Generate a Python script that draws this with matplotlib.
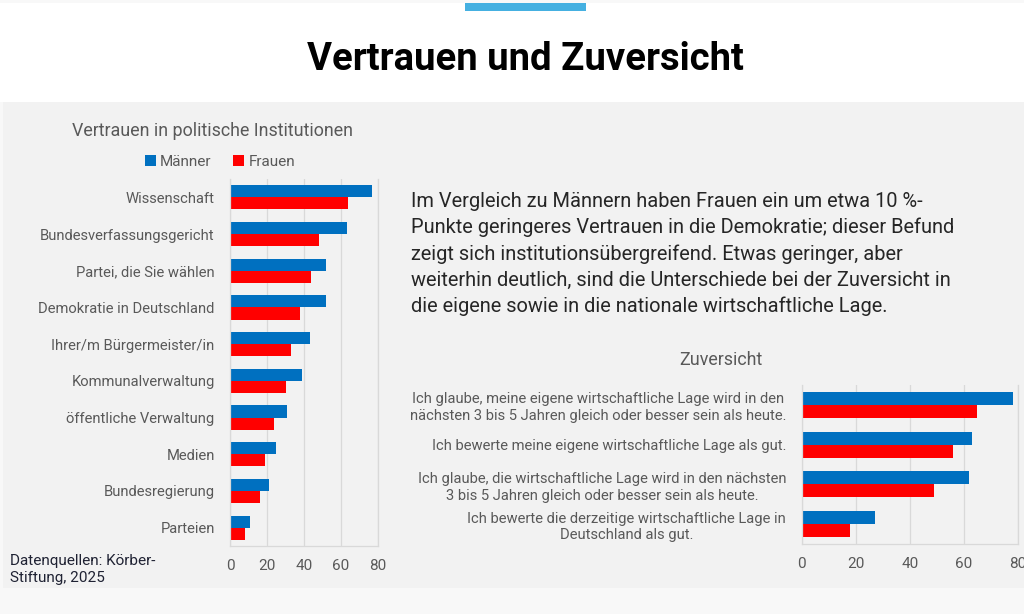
import matplotlib
matplotlib.use("Agg")
import matplotlib.pyplot as plt
from matplotlib.patches import Rectangle, Patch
import numpy as np

plt.rcParams['font.family'] = ['Roboto', 'DejaVu Sans']

# ---------------- data ----------------
title = "Vertrauen und Zuversicht"
inst_title = "Vertrauen in politische Institutionen"
inst_labels = ["Wissenschaft", "Bundesverfassungsgericht", "Partei, die Sie wählen",
               "Demokratie in Deutschland", "Ihrer/m Bürgermeister/in", "Kommunalverwaltung",
               "öffentliche Verwaltung", "Medien", "Bundesregierung", "Parteien"]
inst_maenner = [77, 63, 52, 52, 43, 39, 31, 25, 21, 11]
inst_frauen = [64, 48, 44, 38, 33, 30, 24, 19, 16, 8]

zuv_title = "Zuversicht"
zuv_labels = ["Ich glaube, meine eigene wirtschaftliche Lage wird in den\nnächsten 3 bis 5 Jahren gleich oder besser sein als heute.",
              "Ich bewerte meine eigene wirtschaftliche Lage als gut.",
              "Ich glaube, die wirtschaftliche Lage wird in den nächsten\n3 bis 5 Jahren gleich oder besser sein als heute.",
              "Ich bewerte die derzeitige wirtschaftliche Lage in\nDeutschland als gut."]
zuv_maenner = [78, 63, 62, 27]
zuv_frauen = [65, 56, 49, 18]

series_names = ["Männer", "Frauen"]
x_ticks = [0, 20, 40, 60, 80]

paragraph = ("Im Vergleich zu Männern haben Frauen ein um etwa 10 %-\n"
             "Punkte geringeres Vertrauen in die Demokratie; dieser Befund\n"
             "zeigt sich institutionsübergreifend. Etwas geringer, aber\n"
             "weiterhin deutlich, sind die Unterschiede bei der Zuversicht in\n"
             "die eigene sowie in die nationale wirtschaftliche Lage.")
source = "Datenquellen: Körber-\nStiftung, 2025"

# ---------------- styles ----------------
C_M = "#0070C0"
C_F = "#FF0000"
GRAY_TXT = "#595959"
GRID = "#d9d9d9"
W, H = 1024, 614

fig = plt.figure(figsize=(W / 100, H / 100), dpi=100)
fig.patch.set_facecolor("#f8f8f8")

def fx(px):
    return px / W

def fy(py):
    return 1 - py / H

# backgrounds
fig.patches.append(Rectangle((fx(3), fy(588)), fx(1024) - fx(3), fy(102) - fy(588),
                             transform=fig.transFigure, facecolor="#f2f2f2", edgecolor="none", zorder=-10))
fig.patches.append(Rectangle((0, fy(102)), 1, fy(3) - fy(102),
                             transform=fig.transFigure, facecolor="white", edgecolor="none", zorder=-10))
fig.patches.append(Rectangle((fx(465), fy(11)), fx(586) - fx(465), fy(3) - fy(11),
                             transform=fig.transFigure, facecolor="#45b0e1", edgecolor="none", zorder=-9))

fig.text(fx(525), fy(60), title, ha="center", va="center", fontsize=27.5,
         fontweight="bold", color="black")


def style_axes(ax):
    ax.set_facecolor("none")
    ax.set_xlim(0, 80)
    ax.set_xticks(x_ticks)
    ax.grid(axis="x", color=GRID, linewidth=0.9)
    ax.set_axisbelow(True)
    for s in ["left", "bottom", "right"]:
        ax.spines[s].set_color(GRID)
        ax.spines[s].set_linewidth(0.9)
    ax.spines["top"].set_visible(False)
    ax.tick_params(axis="both", length=0)
    ax.tick_params(axis="x", pad=9, labelsize=11, labelcolor=GRAY_TXT)
    ax.tick_params(axis="y", pad=11, labelcolor=GRAY_TXT)


h = 0.33

# ---------------- left chart ----------------
ax1 = fig.add_axes([fx(230), fy(546), fx(378) - fx(230), fy(179) - fy(546)])
y1 = np.arange(len(inst_labels))
ax1.barh(y1 - h / 2, inst_maenner, height=h, color=C_M, label=series_names[0])
ax1.barh(y1 + h / 2, inst_frauen, height=h, color=C_F, label=series_names[1])
ax1.set_yticks(y1)
ax1.set_yticklabels(inst_labels, fontsize=10.6)
ax1.set_ylim(len(inst_labels) - 0.5, -0.5)
style_axes(ax1)

fig.text(fx(212), fy(131), inst_title, ha="center", va="center", fontsize=12.9, color=GRAY_TXT)
handles = [Patch(facecolor=C_M), Patch(facecolor=C_F)]
fig.legend(handles, series_names, loc="center", bbox_to_anchor=(fx(220), fy(162)), ncol=2,
           frameon=False, fontsize=11, labelcolor=GRAY_TXT, handlelength=0.7,
           handleheight=0.7, handletextpad=0.3, columnspacing=1.4)

# ---------------- right chart ----------------
ax2 = fig.add_axes([fx(801.5), fy(544), fx(1018) - fx(801.5), fy(385) - fy(544)])
y2 = np.arange(len(zuv_labels))
ax2.barh(y2 - h / 2, zuv_maenner, height=h, color=C_M)
ax2.barh(y2 + h / 2, zuv_frauen, height=h, color=C_F)
ax2.set_yticks(y2)
ax2.set_yticklabels(zuv_labels, fontsize=10.6, linespacing=1.25)
for t in ax2.get_yticklabels():
    t.set_multialignment("center")
ax2.set_ylim(len(zuv_labels) - 0.5, -0.5)
style_axes(ax2)

fig.text(fx(721), fy(360), zuv_title, ha="center", va="center", fontsize=12.9, color=GRAY_TXT)

# ---------------- text ----------------
fig.text(fx(411), fy(192), paragraph, ha="left", va="top", fontsize=14.4,
         color="#262626", linespacing=1.45)
fig.text(fx(10), fy(554), source, ha="left", va="top", fontsize=11,
         color="#1f2233", linespacing=1.3)

fig.savefig("out.png", dpi=100, facecolor=fig.get_facecolor())
